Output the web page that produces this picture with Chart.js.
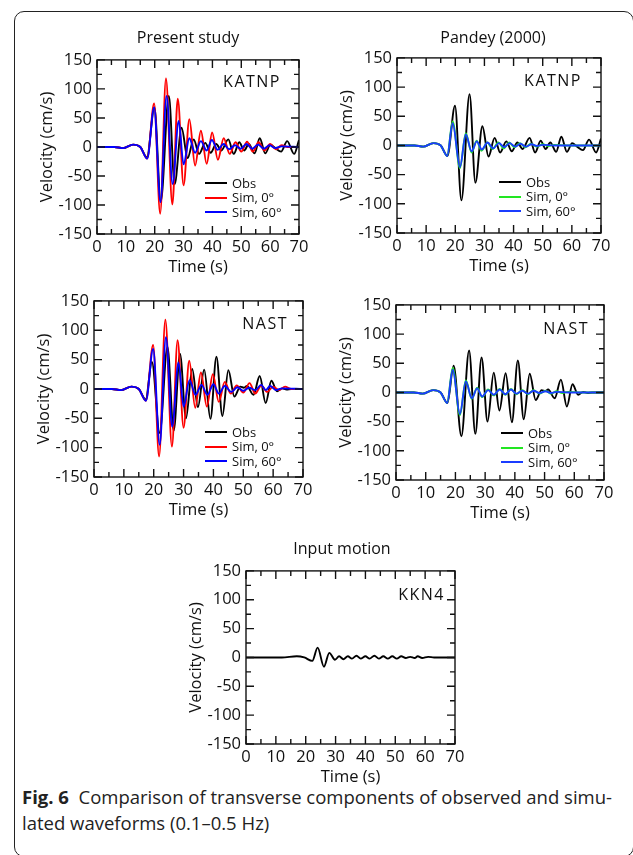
<!DOCTYPE html>
<html>
<head>
<meta charset="utf-8">
<script src="https://cdn.jsdelivr.net/npm/chart.js@4.4.0/dist/chart.umd.min.js"></script>
<style>
  body { margin: 0; width: 633px; height: 855px; position: relative; overflow: hidden; background: #fff; font-family: 'Open Sans', sans-serif; color: #111; }
  .frame { position: absolute; left: 14px; top: 11px; width: 620px; height: 846px; border: 1.3px solid #222; border-radius: 10px; box-sizing: border-box; }
  canvas { position: absolute; }
  .ttl { position: absolute; font-size: 16px; transform: translate(-50%, -50%); white-space: nowrap; }
  .stn { position: absolute; font-size: 16px; letter-spacing: 1.5px; transform: translate(-100%, -50%); white-space: nowrap; }
  .leg { position: absolute; font-size: 13px; white-space: nowrap; }
  .leg div { position: relative; height: 14.5px; line-height: 14.5px; }
  .leg span.sw { display: inline-block; width: 22px; height: 0; border-top: 2px solid; vertical-align: middle; margin-right: 5px; position: relative; top: -1px; }
  .cap { position: absolute; left: 22px; top: 784px; font-size: 18.5px; line-height: 26px; color: #222; white-space: nowrap; }
</style>
</head>
<body>
<div class="frame"></div>
<div class="cap"><b>Fig. 6</b>&nbsp; Comparison of transverse components of observed and simu-<br>lated waveforms (0.1–0.5 Hz)</div>

<script>
// tick labels
const xTickValues = [0, 10, 20, 30, 40, 50, 60, 70];
const yTickValues = [-150, -100, -50, 0, 50, 100, 150];

// series: [time (s), velocity (cm/s)] at the turning points of each trace
const katnpObs = [[0,0],[6,0],[9,-2],[12.5,4],[15,0],[17.3,-18],[19.9,68],[22.1,-94],[24.9,88],[26.9,-64],[29.3,33],[31.4,-19],[33.5,13],[35.4,-12],[37.5,7],[39.4,-10],[41.3,5],[43.1,-6],[45.5,13],[47.4,-12],[49.3,8],[51,-6],[52.6,5],[54.6,-11],[56.4,15],[58.3,-11],[60.1,4],[61.8,-2],[63.8,-8],[65.9,10],[68.3,-12],[70,12]];
const katnpPresentSim0 = [[0,0],[6,0],[9,-2],[12.5,4],[15,0],[17.4,-20],[19.8,75],[21.9,-115],[23.9,118],[26.1,-99],[28,83],[30,-66],[32,48],[34,-32],[36,28],[38,-29],[39.9,25],[41.9,-22],[43.9,15],[46,-12],[48,8],[50,-8],[52,9],[54,-8],[56,8],[58,-6],[60,5],[62,-4],[64,3],[66,0],[70,0]];
const katnpPresentSim60 = [[0,0],[6,0],[9,-2],[12.5,4],[15,0],[17.4,-20],[19.8,68],[22,-95],[24.1,88],[26.2,-64],[28.3,45],[30,-30],[32,15],[34,-10],[36,10],[38,-6],[39.8,12],[41.8,-5],[43.8,5],[45.8,-4],[47.8,3],[49.8,-3],[51.8,5],[53.8,-3],[55.8,4],[57.8,-3],[59.8,3],[61.8,-2],[64,1],[70,0]];
const katnpPandeySim0 = [[0,0],[6,0],[9,-2],[12.5,4],[15,0],[17.2,-18],[19.1,41],[21.6,-39],[23.6,21],[25.6,-12],[27.3,8],[29,-9],[31,5],[32.8,-6],[34.8,5],[36.6,-5],[38.5,5],[40.3,-3],[42.2,4],[44,-3],[46,3],[48,-2],[50,2],[52,-1],[54,1],[58,0],[70,0]];
const katnpPandeySim60 = [[0,0],[6,0],[9,-2],[12.5,4],[15,0],[17.2,-18],[19.1,38],[21.6,-37],[23.6,19],[25.6,-10],[27.4,7],[29.1,-7],[31.1,5],[33,-5],[35,4],[36.8,-3],[38.7,4],[40.5,-2],[42.4,3],[44.2,-2],[46.2,2],[48,-1],[50,1],[54,0],[70,0]];

const nastObs = [[0,0],[6,0],[9,-2],[12.5,4],[15,0],[17.3,-18],[19.4,46],[22,-75],[24.6,72],[26.7,-71],[28.8,60],[30.8,-50],[32.9,34],[34.8,-31],[36.9,33],[39,-51],[41,55],[43,-46],[45,32],[47,-13],[49,4],[50.2,2],[51.2,5],[53.4,-10],[55.5,22],[57.5,-24],[59.4,14],[61.3,-4],[63,1],[64.5,-1],[66,0],[70,0]];
const nastPresentSim0 = [[0,0],[6,0],[9,-2],[12.5,4],[15,0],[17.4,-20],[19.8,75],[21.8,-115],[23.9,118],[26.1,-98],[28,83],[30,-66],[31.9,48],[33.9,-32],[35.8,28],[37.8,-30],[39.8,25],[41.8,-22],[43.8,12],[45.8,-8],[47.8,6],[50,-6],[52.1,10],[54,-8],[56,6],[58,-5],[60,4],[62,-2],[64,4],[66,0],[70,0]];
const nastPresentSim60 = [[0,0],[6,0],[9,-2],[12.5,4],[15,0],[17.4,-20],[19.8,68],[22,-95],[24.1,88],[26.2,-64],[28.3,45],[30,-30],[32,15],[34,-10],[36,7],[38,-10],[40,8],[41.8,-8],[43.8,5],[46,-5],[48,3],[50,-3],[52,2],[54,-2],[56,7],[57.5,-2],[59,5],[61,-2],[63,1],[70,0]];
const nastPandeySim0 = [[0,0],[6,0],[9,-2],[12.5,4],[15,0],[17.2,-18],[19.1,42],[21.5,-39],[23.5,21],[25.5,-11],[27.3,8],[29,-8],[31,5],[32.9,-5],[34.9,6],[36.8,-4],[38.7,6],[40.5,-3],[42.5,4],[44.4,-3],[46.3,4],[48.3,-2],[50.3,3],[52.2,-2],[54,2],[56,-1],[58,1],[62,0],[70,0]];
const nastPandeySim60 = [[0,0],[6,0],[9,-2],[12.5,4],[15,0],[17.2,-18],[19.1,39],[21.5,-37],[23.5,19],[25.5,-10],[27.3,7],[29,-7],[31,4],[32.9,-4],[34.9,5],[36.8,-3],[38.7,5],[40.5,-2],[42.5,3],[44.4,-2],[46.3,3],[48.3,-1],[50.3,2],[52.2,-1],[54,1],[58,0],[70,0]];

const kkn4Input = [[0,0],[12,0],[17,2],[19.5,0],[22.2,-6],[24,17],[26.1,-16],[27.9,8],[29.8,-4],[31.2,2],[32.6,-3],[34.1,2],[35.5,-2],[37,3],[38.4,-2],[40,2],[41.4,-2],[43,3],[44.5,-2],[46,2],[47.5,-2],[49,2],[50.5,-2],[52,2],[53.5,-1],[55,1],[56.5,-1],[57.5,2],[59,-1],[61,1],[63,0],[70,0]];

const seriesNames = ['Obs', 'Sim, 0°', 'Sim, 60°'];

// plot-area placement of each panel (page pixels)
const panels = [
  { L: 97, T: 57, R: 299, B: 234, title: 'Present study', tx: 188, ty: 37, station: 'KATNP', sx: 281, sy: 81,
    traces: [katnpObs, katnpPresentSim0, katnpPresentSim60], colors: ['#000', '#ff0000', '#0000ff'], leg: [205, 183] },
  { L: 397, T: 55, R: 601, B: 233, title: 'Pandey (2000)', tx: 493, ty: 37, station: 'KATNP', sx: 582, sy: 80,
    traces: [katnpObs, katnpPandeySim0, katnpPandeySim60], colors: ['#000', '#22e622', '#1a3cff'], leg: [499, 182] },
  { L: 94, T: 298, R: 303, B: 477, station: 'NAST', sx: 288, sy: 323,
    traces: [nastObs, nastPresentSim0, nastPresentSim60], colors: ['#000', '#ff0000', '#0000ff'], leg: [205, 432] },
  { L: 396, T: 302, R: 604, B: 480, station: 'NAST', sx: 589, sy: 328,
    traces: [nastObs, nastPandeySim0, nastPandeySim60], colors: ['#000', '#22e622', '#1a3cff'], leg: [501, 433] },
  { L: 246, T: 568, R: 455, B: 744, title: 'Input motion', tx: 342, ty: 548, station: 'KKN4', sx: 445, sy: 594,
    traces: [kkn4Input], colors: ['#000'] },
];

const padL = 70, padT = 12, padR = 14, padB = 50;

// frame + inward ticks on all four sides
const boxTicks = {
  id: 'boxTicks',
  afterDatasetsDraw(chart) {
    const { ctx, chartArea: a, scales: { x, y } } = chart;
    ctx.save();
    ctx.strokeStyle = '#111';
    ctx.lineWidth = 1.4;
    ctx.beginPath();
    for (let t = 0; t <= 70; t += 5) {
      const px = x.getPixelForValue(t);
      const len = xTickValues.includes(t) ? 8 : 5;
      ctx.moveTo(px, a.bottom); ctx.lineTo(px, a.bottom - len);
      ctx.moveTo(px, a.top); ctx.lineTo(px, a.top + len);
    }
    for (let v = -150; v <= 150; v += 25) {
      const py = y.getPixelForValue(v);
      const len = yTickValues.includes(v) ? 8 : 5;
      ctx.moveTo(a.left, py); ctx.lineTo(a.left + len, py);
      ctx.moveTo(a.right, py); ctx.lineTo(a.right - len, py);
    }
    ctx.stroke();
    ctx.strokeRect(a.left, a.top, a.right - a.left, a.bottom - a.top);
    ctx.restore();
  }
};

function addDiv(cls, html, x, y) {
  const d = document.createElement('div');
  d.className = cls;
  d.innerHTML = html;
  d.style.left = x + 'px';
  d.style.top = y + 'px';
  document.body.appendChild(d);
  return d;
}

panels.forEach((p, i) => {
  const cv = document.createElement('canvas');
  const w = p.R - p.L + padL + padR, h = p.B - p.T + padT + padB;
  cv.width = w; cv.height = h;
  cv.style.left = (p.L - padL) + 'px';
  cv.style.top = (p.T - padT) + 'px';
  cv.style.width = w + 'px'; cv.style.height = h + 'px';
  document.body.appendChild(cv);

  const datasets = p.traces.map((tr, k) => ({
    label: seriesNames[k],
    data: tr.map(([t, v]) => ({ x: t, y: v })),
    borderColor: p.colors[k],
    borderWidth: 1.9,
    pointRadius: 0,
    cubicInterpolationMode: 'monotone',
    order: 3 - k
  }));

  new Chart(cv, {
    type: 'line',
    data: { datasets },
    options: {
      responsive: false,
      animation: false,
      layout: { padding: { left: 0, top: padT, right: padR, bottom: 0 } },
      plugins: { legend: { display: false }, tooltip: { enabled: false } },
      scales: {
        x: {
          type: 'linear', min: 0, max: 70,
          grid: { display: false, drawTicks: false },
          border: { display: false },
          afterBuildTicks: s => { s.ticks = xTickValues.map(v => ({ value: v })); },
          afterFit: s => { s.height = padB; },
          ticks: { color: '#111', font: { family: 'Open Sans', size: 16.5 }, padding: 3, maxRotation: 0, autoSkip: false },
          title: { display: true, text: 'Time (s)', color: '#111', font: { family: 'Open Sans', size: 16.5, lineHeight: 1.2 }, padding: { top: 0, bottom: 7 } }
        },
        y: {
          min: -150, max: 150,
          grid: { display: false, drawTicks: false },
          border: { display: false },
          afterBuildTicks: s => { s.ticks = yTickValues.map(v => ({ value: v })); },
          afterFit: s => { s.width = padL; },
          ticks: { color: '#111', font: { family: 'Open Sans', size: 16.5 }, padding: 5, autoSkip: false },
          title: { display: true, text: 'Velocity (cm/s)', color: '#111', font: { family: 'Open Sans', size: 16.5, lineHeight: 1.2 }, padding: { top: 10, bottom: 0 } }
        }
      }
    },
    plugins: [boxTicks]
  });

  if (p.title) addDiv('ttl', p.title, p.tx, p.ty);
  addDiv('stn', p.station, p.sx, p.sy);
  if (p.leg) {
    const rows = p.traces.map((tr, k) =>
      `<div><span class="sw" style="border-color:${p.colors[k]}"></span>${seriesNames[k]}</div>`).join('');
    addDiv('leg', rows, p.leg[0], p.leg[1] - 7.25);
  }
});
</script>
</body>
</html>
